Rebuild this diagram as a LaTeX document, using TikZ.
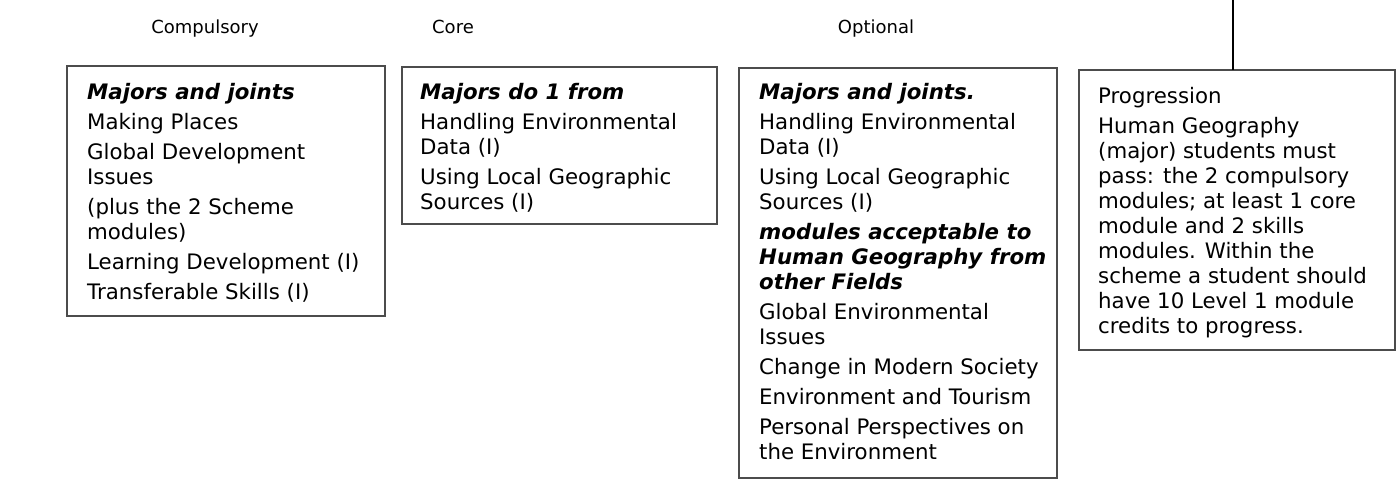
\documentclass[tikz,border=0pt]{standalone}
\usepackage{fontspec}
\setmainfont{DejaVu Sans}
\newcommand\itemgap{\\[5pt]}
\begin{document}
\begin{tikzpicture}[x=1pt,y=-1pt,
  frame/.style={draw=black!70, line width=1.1pt, anchor=north west, inner sep=0pt, outer sep=0pt},
  body/.style={anchor=base west, inner sep=0pt, align=left, font=\fontsize{21.3}{25}\selectfont},
  head/.style={anchor=base, inner sep=0pt, font=\fontsize{18}{22}\selectfont}]
\useasboundingbox (0,0) rectangle (1398,481);

% column headings
\node[head] (hcomp) at (205,34) {Compulsory};
\node[head] (hcore) at (453,34) {Core};
\node[head] (hopt)  at (876,34) {Optional};

% compulsory modules
\node[frame, minimum width=318pt, minimum height=250pt] (comp) at (67,66) {};
\node[body] (comptxt) at (87,100) {\parbox[t]{290pt}{\raggedright
  \textbf{\textit{Majors and joints}}\itemgap
  Making Places\itemgap
  Global Development\\ Issues\itemgap
  (plus the 2 Scheme\\ modules)\itemgap
  Learning Development (I)\itemgap
  Transferable Skills (I)}};

% core modules
\node[frame, minimum width=315pt, minimum height=157pt] (core) at (402,67) {};
\node[body] (coretxt) at (420,100) {\parbox[t]{290pt}{\raggedright
  \textbf{\textit{Majors do 1 from}}\itemgap
  Handling Environmental\\ Data (I)\itemgap
  Using Local Geographic\\ Sources (I)}};

% optional modules
\node[frame, minimum width=318pt, minimum height=410pt] (opt) at (739,68) {};
\node[body] (opttxt) at (759,100) {\parbox[t]{295pt}{\raggedright
  \textbf{\textit{Majors and joints.}}\itemgap
  Handling Environmental\\ Data (I)\itemgap
  Using Local Geographic\\ Sources (I)\itemgap
  \textbf{\textit{modules acceptable to\\ Human Geography from\\ other Fields}}\itemgap
  Global Environmental\\ Issues\itemgap
  Change in Modern Society\itemgap
  Environment and Tourism\itemgap
  Personal Perspectives on\\ the Environment}};

% progression rules
\node[frame, minimum width=316pt, minimum height=280pt] (prog) at (1079,70) {};
\node[body] (progtxt) at (1098,104) {\parbox[t]{290pt}{\raggedright
  Progression\itemgap
  Human Geography\\ (major) students must\\ pass: the 2 compulsory\\ modules; at least 1 core\\
  module and 2 skills\\ modules. Within the\\ scheme a student should\\ have 10 Level 1 module\\
  credits to progress.}};

% link from above
\coordinate (linktop) at (1233,0);
\draw[line width=1.8pt] (linktop) -- (linktop |- prog.north);
\end{tikzpicture}
\end{document}
